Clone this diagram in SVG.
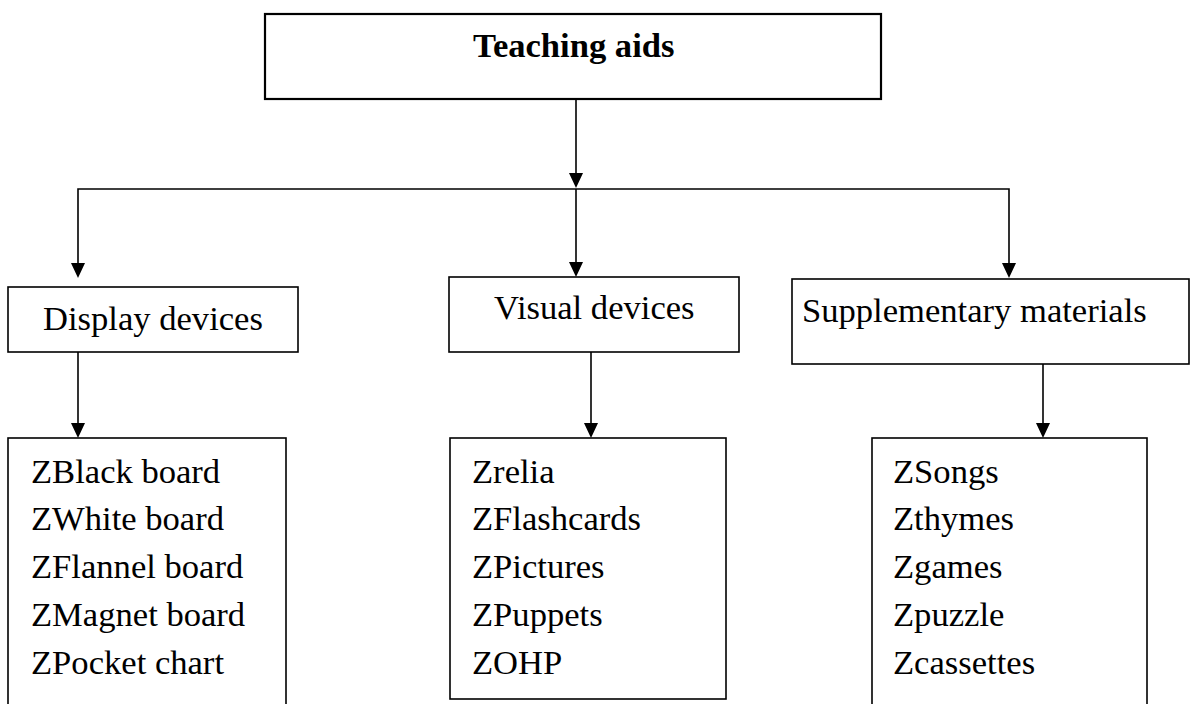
<svg xmlns="http://www.w3.org/2000/svg" width="1192" height="704" viewBox="0 0 1192 704">
<defs>
<style>
.box{fill:#fff;stroke:#000;stroke-width:1.6}
.t{font-family:"Liberation Serif","Times New Roman",serif;font-size:34.6px;fill:#000}
.b{font-weight:bold}
.c{fill:none;stroke:#000;stroke-width:1.6}
.h{fill:#000}
</style>
</defs>
<rect width="1192" height="704" fill="#fff"/>
<g id="connectors">
<line class="c" x1="576" y1="99" x2="576" y2="173"/>
<path class="h" d="M569,173 L583,173 L576,188 Z"/>
<polyline class="c" points="78,263 78,189 1009,189 1009,263"/>
<line class="c" x1="576" y1="189" x2="576" y2="262"/>
<path class="h" d="M71,263 L85,263 L78,278 Z"/>
<path class="h" d="M569,262 L583,262 L576,277 Z"/>
<path class="h" d="M1002,263 L1016,263 L1009,278 Z"/>
<line class="c" x1="78" y1="352" x2="78" y2="423"/>
<path class="h" d="M71,423 L85,423 L78,438 Z"/>
<line class="c" x1="591" y1="352" x2="591" y2="423"/>
<path class="h" d="M584,423 L598,423 L591,438 Z"/>
<line class="c" x1="1043" y1="364" x2="1043" y2="423"/>
<path class="h" d="M1036,423 L1050,423 L1043,438 Z"/>
</g>
<g id="teaching-aids">
<rect class="box" x="265" y="14" width="616" height="85" style="stroke-width:2.2"/>
<text class="t b" x="473" y="57">Teaching aids</text>
</g>
<g id="display-devices">
<rect class="box" x="8" y="287" width="290" height="65"/>
<text class="t" x="43" y="330">Display devices</text>
</g>
<g id="visual-devices">
<rect class="box" x="449" y="277" width="290" height="75"/>
<text class="t" x="494" y="319">Visual devices</text>
</g>
<g id="supplementary-materials">
<rect class="box" x="792" y="279" width="397" height="85"/>
<text class="t" x="802" y="322">Supplementary materials</text>
</g>
<g id="display-list">
<rect class="box" x="8" y="438" width="278" height="280"/>
<text class="t" x="31" y="483">ZBlack board</text>
<text class="t" x="31" y="530">ZWhite board</text>
<text class="t" x="31" y="578">ZFlannel board</text>
<text class="t" x="31" y="626">ZMagnet board</text>
<text class="t" x="31" y="674">ZPocket chart</text>
</g>
<g id="visual-list">
<rect class="box" x="450" y="438" width="276" height="261"/>
<text class="t" x="472" y="483">Zrelia</text>
<text class="t" x="472" y="530">ZFlashcards</text>
<text class="t" x="472" y="578">ZPictures</text>
<text class="t" x="472" y="626">ZPuppets</text>
<text class="t" x="472" y="674">ZOHP</text>
</g>
<g id="supplementary-list">
<rect class="box" x="872" y="438" width="275" height="280"/>
<text class="t" x="893" y="483">ZSongs</text>
<text class="t" x="893" y="530">Zthymes</text>
<text class="t" x="893" y="578">Zgames</text>
<text class="t" x="893" y="626">Zpuzzle</text>
<text class="t" x="893" y="674">Zcassettes</text>
</g>
</svg>
